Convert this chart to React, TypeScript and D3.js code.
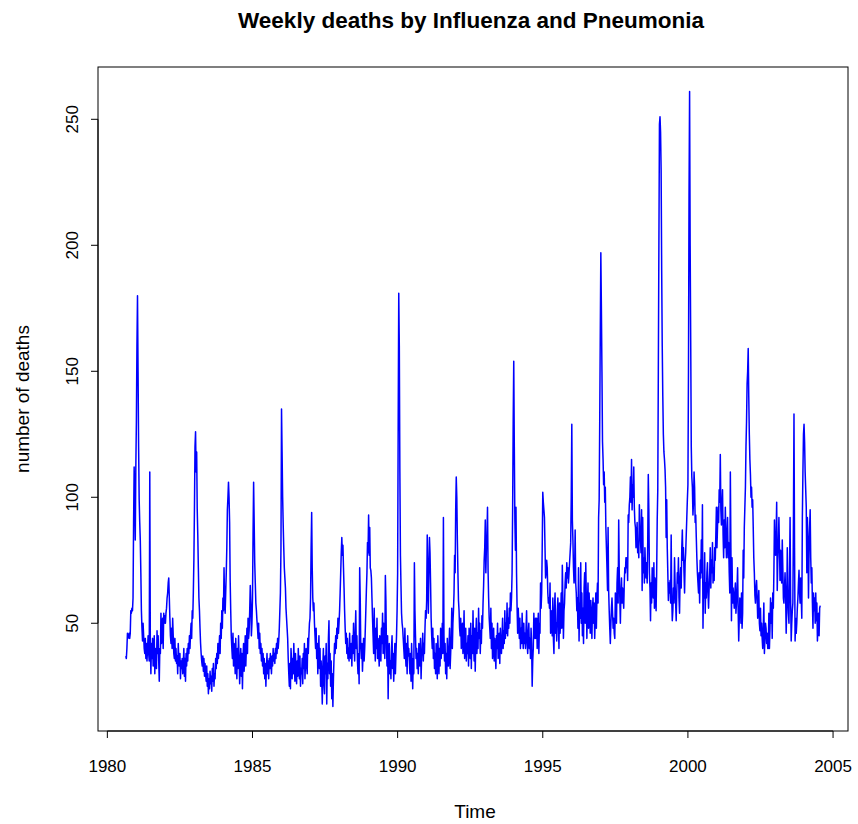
import { useEffect, useRef } from 'react'
import * as d3 from 'd3'

// weekly counts, first week of the series is week 34 of 1980
const startYear = 1980
const startWeek = 34

const y1980 = [37, 36, 40, 46, 44, 45, 46, 44, 46, 55, 54, 56, 55, 60, 90, 112, 100, 83, 112]
const y1981 = [130, 160, 180, 150, 120, 99, 90, 83, 70, 55, 48, 43, 50, 45, 40, 38, 44, 36, 42, 35, 40, 45, 38, 35, 110, 40, 30, 42, 36, 44, 33, 38, 45, 30, 40, 36, 32, 47, 38, 45, 35, 27, 40, 38, 54, 42, 48, 52, 40, 54, 50, 53]
const y1982 = [50, 54, 56, 60, 62, 66, 68, 60, 52, 45, 42, 48, 40, 52, 45, 38, 36, 44, 35, 40, 34, 37, 30, 42, 36, 33, 38, 28, 35, 32, 36, 30, 34, 40, 29, 36, 27, 38, 33, 40, 35, 42, 38, 45, 40, 46, 50, 44, 55, 52, 62, 75]
const y1983 = [95, 120, 126, 110, 118, 95, 85, 72, 60, 55, 48, 42, 38, 35, 33, 37, 31, 36, 29, 34, 30, 27, 33, 25, 30, 22, 28, 24, 31, 26, 29, 23, 32, 27, 34, 25, 30, 28, 36, 32, 38, 34, 42, 36, 40, 45, 38, 50, 44, 55, 48, 60]
const y1984 = [55, 72, 60, 54, 62, 70, 80, 95, 100, 106, 100, 90, 67, 55, 45, 40, 36, 46, 33, 42, 38, 30, 44, 35, 28, 40, 32, 45, 36, 26, 34, 40, 29, 38, 24, 36, 42, 31, 37, 45, 33, 40, 48, 38, 52, 44, 47, 55, 65, 58, 45, 50]
const y1985 = [60, 85, 106, 90, 74, 66, 58, 55, 51, 48, 44, 50, 40, 46, 38, 42, 35, 40, 33, 38, 30, 36, 28, 34, 25, 33, 38, 30, 35, 28, 36, 32, 38, 34, 30, 37, 33, 40, 35, 38, 34, 40, 36, 42, 38, 44, 40, 43, 48, 55, 62, 80]
const y1986 = [135, 118, 100, 89, 80, 72, 68, 64, 56, 52, 48, 44, 36, 30, 25, 34, 24, 40, 35, 28, 36, 30, 42, 33, 27, 38, 31, 26, 35, 29, 40, 33, 28, 37, 25, 32, 30, 36, 26, 38, 32, 42, 28, 35, 40, 33, 30, 44, 38, 45, 50, 52]
const y1987 = [60, 80, 94, 72, 60, 55, 58, 50, 45, 40, 48, 36, 42, 30, 38, 45, 32, 40, 25, 35, 28, 18, 33, 40, 26, 22, 37, 30, 42, 18, 34, 28, 44, 51, 30, 38, 25, 35, 20, 30, 17, 28, 36, 42, 38, 45, 40, 48, 44, 52, 46, 50]
const y1988 = [55, 62, 70, 78, 84, 77, 81, 72, 64, 55, 48, 42, 46, 38, 44, 36, 40, 35, 46, 38, 36, 42, 33, 45, 38, 50, 40, 35, 46, 55, 40, 45, 35, 30, 38, 26, 72, 60, 40, 36, 42, 31, 38, 44, 35, 40, 47, 55, 63, 70, 82, 78]
const y1989 = [93, 77, 88, 72, 71, 68, 60, 52, 45, 38, 56, 42, 35, 48, 40, 52, 36, 44, 38, 33, 45, 40, 35, 48, 42, 54, 38, 50, 44, 36, 69, 59, 40, 33, 45, 20, 38, 42, 30, 35, 28, 40, 45, 32, 38, 27, 35, 42, 30, 38, 45, 55]
const y1990 = [70, 130, 181, 160, 110, 77, 65, 54, 50, 48, 44, 40, 36, 48, 38, 33, 42, 30, 45, 37, 40, 35, 30, 38, 27, 42, 34, 24, 36, 30, 74, 55, 45, 36, 40, 32, 38, 30, 42, 36, 33, 44, 28, 37, 40, 46, 35, 42, 38, 48, 55, 52]
const y1991 = [59, 85, 71, 54, 71, 84, 78, 66, 52, 45, 40, 48, 36, 44, 32, 38, 30, 42, 35, 28, 45, 38, 30, 40, 33, 48, 36, 41, 50, 38, 92, 45, 35, 42, 30, 38, 28, 44, 36, 33, 40, 48, 32, 38, 45, 56, 40, 50, 55, 62, 77, 70]
const y1992 = [95, 108, 100, 83, 70, 59, 55, 48, 45, 52, 40, 46, 50, 38, 44, 55, 36, 42, 48, 35, 42, 38, 45, 33, 48, 40, 36, 50, 32, 45, 38, 55, 42, 35, 48, 31, 44, 52, 38, 46, 40, 56, 44, 50, 38, 47, 42, 53, 48, 58, 65, 75]
const y1993 = [80, 91, 70, 80, 85, 96, 71, 60, 52, 48, 44, 56, 40, 50, 36, 42, 48, 35, 44, 38, 32, 45, 40, 50, 36, 42, 46, 34, 48, 40, 38, 45, 52, 40, 47, 42, 55, 44, 50, 46, 58, 45, 52, 48, 56, 50, 62, 55, 60, 70, 95, 130]
const y1994 = [154, 120, 91, 79, 96, 70, 56, 46, 56, 50, 44, 52, 40, 48, 42, 54, 45, 40, 50, 42, 46, 40, 48, 55, 42, 38, 46, 50, 40, 44, 36, 48, 42, 25, 35, 40, 54, 46, 44, 52, 44, 52, 40, 48, 54, 38, 50, 46, 66, 56, 62, 80]
const y1995 = [102, 98, 95, 92, 80, 68, 70, 75, 72, 62, 58, 60, 56, 66, 46, 55, 50, 45, 60, 44, 38, 56, 62, 46, 50, 43, 55, 60, 50, 40, 58, 46, 52, 62, 48, 73, 60, 44, 55, 58, 66, 70, 64, 74, 68, 72, 66, 70, 74, 78, 82, 100]
const y1996 = [129, 91, 83, 72, 66, 70, 87, 66, 62, 55, 60, 48, 72, 43, 58, 52, 74, 50, 62, 45, 56, 42, 64, 70, 50, 74, 60, 44, 58, 66, 48, 62, 55, 46, 59, 52, 44, 56, 60, 50, 58, 44, 52, 62, 48, 60, 66, 58, 92, 99, 130, 165]
const y1997 = [197, 175, 150, 122, 115, 105, 110, 98, 104, 88, 80, 72, 63, 88, 63, 55, 48, 42, 50, 56, 60, 54, 48, 52, 46, 44, 62, 56, 50, 66, 72, 58, 91, 70, 60, 50, 62, 68, 58, 64, 60, 56, 66, 72, 70, 76, 72, 76, 67, 93, 90, 97]
const y1998 = [100, 108, 98, 115, 95, 105, 100, 112, 96, 90, 88, 80, 84, 90, 78, 82, 76, 97, 88, 83, 78, 95, 63, 92, 70, 76, 66, 80, 72, 68, 74, 66, 82, 109, 95, 70, 64, 51, 66, 58, 72, 66, 60, 74, 56, 68, 62, 55, 70, 91, 103, 150]
const y1999 = [200, 248, 251, 245, 230, 190, 160, 140, 125, 118, 115, 111, 104, 84, 99, 80, 70, 59, 66, 62, 67, 58, 85, 60, 51, 55, 64, 58, 76, 66, 58, 51, 62, 70, 66, 76, 60, 54, 68, 72, 64, 80, 87, 75, 80, 70, 62, 74, 78, 85, 92, 99]
const y2000 = [105, 150, 220, 261, 200, 162, 120, 108, 104, 93, 98, 110, 104, 90, 93, 84, 76, 70, 66, 62, 70, 58, 75, 68, 83, 70, 97, 48, 66, 60, 78, 54, 66, 60, 70, 74, 62, 56, 64, 70, 80, 64, 75, 70, 82, 66, 72, 67, 80, 75, 85, 96]
const y2001 = [80, 88, 96, 90, 103, 98, 117, 95, 89, 97, 103, 85, 76, 91, 80, 96, 85, 76, 84, 92, 76, 82, 70, 62, 110, 80, 51, 76, 58, 64, 60, 56, 62, 66, 54, 58, 64, 72, 55, 43, 52, 60, 58, 50, 62, 48, 54, 79, 68, 88, 96, 104]
const y2002 = [120, 130, 145, 150, 159, 140, 125, 115, 109, 100, 104, 96, 99, 88, 76, 70, 61, 58, 64, 67, 60, 52, 58, 63, 50, 47, 56, 45, 50, 44, 40, 48, 58, 38, 44, 50, 48, 42, 46, 40, 40, 54, 40, 48, 60, 50, 58, 44, 62, 56, 70, 91]
const y2003 = [80, 77, 85, 98, 63, 75, 82, 92, 80, 67, 79, 70, 66, 83, 72, 60, 58, 64, 70, 62, 46, 56, 80, 62, 54, 50, 70, 92, 60, 43, 50, 55, 58, 90, 133, 80, 43, 52, 46, 50, 56, 60, 66, 71, 62, 58, 68, 60, 52, 92, 110, 125]
const y2004 = [129, 122, 110, 103, 96, 70, 92, 84, 60, 78, 88, 95, 76, 66, 72, 58, 48, 62, 55, 60, 50, 62, 51, 58, 43, 50, 54, 45, 56, 57]

const deaths = [
  ...y1980, ...y1981, ...y1982, ...y1983, ...y1984, ...y1985, ...y1986, ...y1987,
  ...y1988, ...y1989, ...y1990, ...y1991, ...y1992, ...y1993, ...y1994, ...y1995,
  ...y1996, ...y1997, ...y1998, ...y1999, ...y2000, ...y2001, ...y2002, ...y2003, ...y2004
]

const xTicks = [1980, 1985, 1990, 1995, 2000, 2005]
const yTicks = [50, 100, 150, 200, 250]

export default function App() {
  const svgRef = useRef<SVGSVGElement>(null)

  useEffect(() => {
    if (!svgRef.current) return
    const svg = d3.select(svgRef.current)
    svg.selectAll('*').remove()

    const font = 'Liberation Sans, Arial, Helvetica, sans-serif'
    const left = 98, right = 848, top = 67, bottom = 731

    const series = deaths.map((v, i) => ({ t: startYear + (startWeek - 1 + i) / 52, v }))

    // R style 4% padding around data range
    const [t0, t1] = d3.extent(series, d => d.t) as [number, number]
    const [v0, v1] = d3.extent(series, d => d.v) as [number, number]
    const tp = (t1 - t0) * 0.04
    const vp = (v1 - v0) * 0.04

    const x = d3.scaleLinear().domain([t0 - tp, t1 + tp]).range([left, right])
    const y = d3.scaleLinear().domain([v0 - vp, v1 + vp]).range([bottom, top])

    // series line
    const line = d3.line<{ t: number, v: number }>()
      .x(d => x(d.t))
      .y(d => y(d.v))

    svg.append('path')
      .datum(series)
      .attr('d', line)
      .style('fill', 'none')
      .style('stroke', '#0000ff')
      .style('stroke-width', '1.5px')
      .style('stroke-linejoin', 'round')

    // box
    svg.append('rect')
      .attr('x', left)
      .attr('y', top)
      .attr('width', right - left)
      .attr('height', bottom - top)
      .style('fill', 'none')
      .style('stroke', 'black')
      .style('stroke-width', '1px')

    // x axis
    const xa = svg.append('g')
    xa.append('line')
      .attr('x1', x(xTicks[0])).attr('x2', x(xTicks[xTicks.length - 1]))
      .attr('y1', bottom).attr('y2', bottom)
      .style('stroke', 'black')
    xTicks.forEach(t => {
      xa.append('line')
        .attr('x1', x(t)).attr('x2', x(t))
        .attr('y1', bottom).attr('y2', bottom + 7)
        .style('stroke', 'black')
      xa.append('text')
        .attr('x', x(t))
        .attr('y', bottom + 41)
        .style('text-anchor', 'middle')
        .style('font-family', font)
        .style('font-size', '17px')
        .text(t)
    })

    // y axis
    const ya = svg.append('g')
    ya.append('line')
      .attr('x1', left).attr('x2', left)
      .attr('y1', y(yTicks[0])).attr('y2', y(yTicks[yTicks.length - 1]))
      .style('stroke', 'black')
    yTicks.forEach(v => {
      ya.append('line')
        .attr('x1', left - 7).attr('x2', left)
        .attr('y1', y(v)).attr('y2', y(v))
        .style('stroke', 'black')
      ya.append('text')
        .attr('transform', `translate(${left - 20},${y(v)}) rotate(-90)`)
        .style('text-anchor', 'middle')
        .style('font-family', font)
        .style('font-size', '17px')
        .text(v)
    })

    // titles
    svg.append('text')
      .attr('x', (left + right) / 2 - 2)
      .attr('y', 28)
      .style('text-anchor', 'middle')
      .style('font-family', font)
      .style('font-size', '22.5px')
      .style('font-weight', 'bold')
      .text('Weekly deaths by Influenza and Pneumonia')

    svg.append('text')
      .attr('x', (left + right) / 2 + 2)
      .attr('y', 818)
      .style('text-anchor', 'middle')
      .style('font-family', font)
      .style('font-size', '19px')
      .text('Time')

    svg.append('text')
      .attr('transform', `translate(29,${(top + bottom) / 2}) rotate(-90)`)
      .style('text-anchor', 'middle')
      .style('font-family', font)
      .style('font-size', '19px')
      .text('number of deaths')
  }, [])

  return (
    <svg
      ref={svgRef}
      width={858}
      height={824}
      style={{ position: 'absolute', left: 0, top: 0, background: 'white' }}
    />
  )
}
